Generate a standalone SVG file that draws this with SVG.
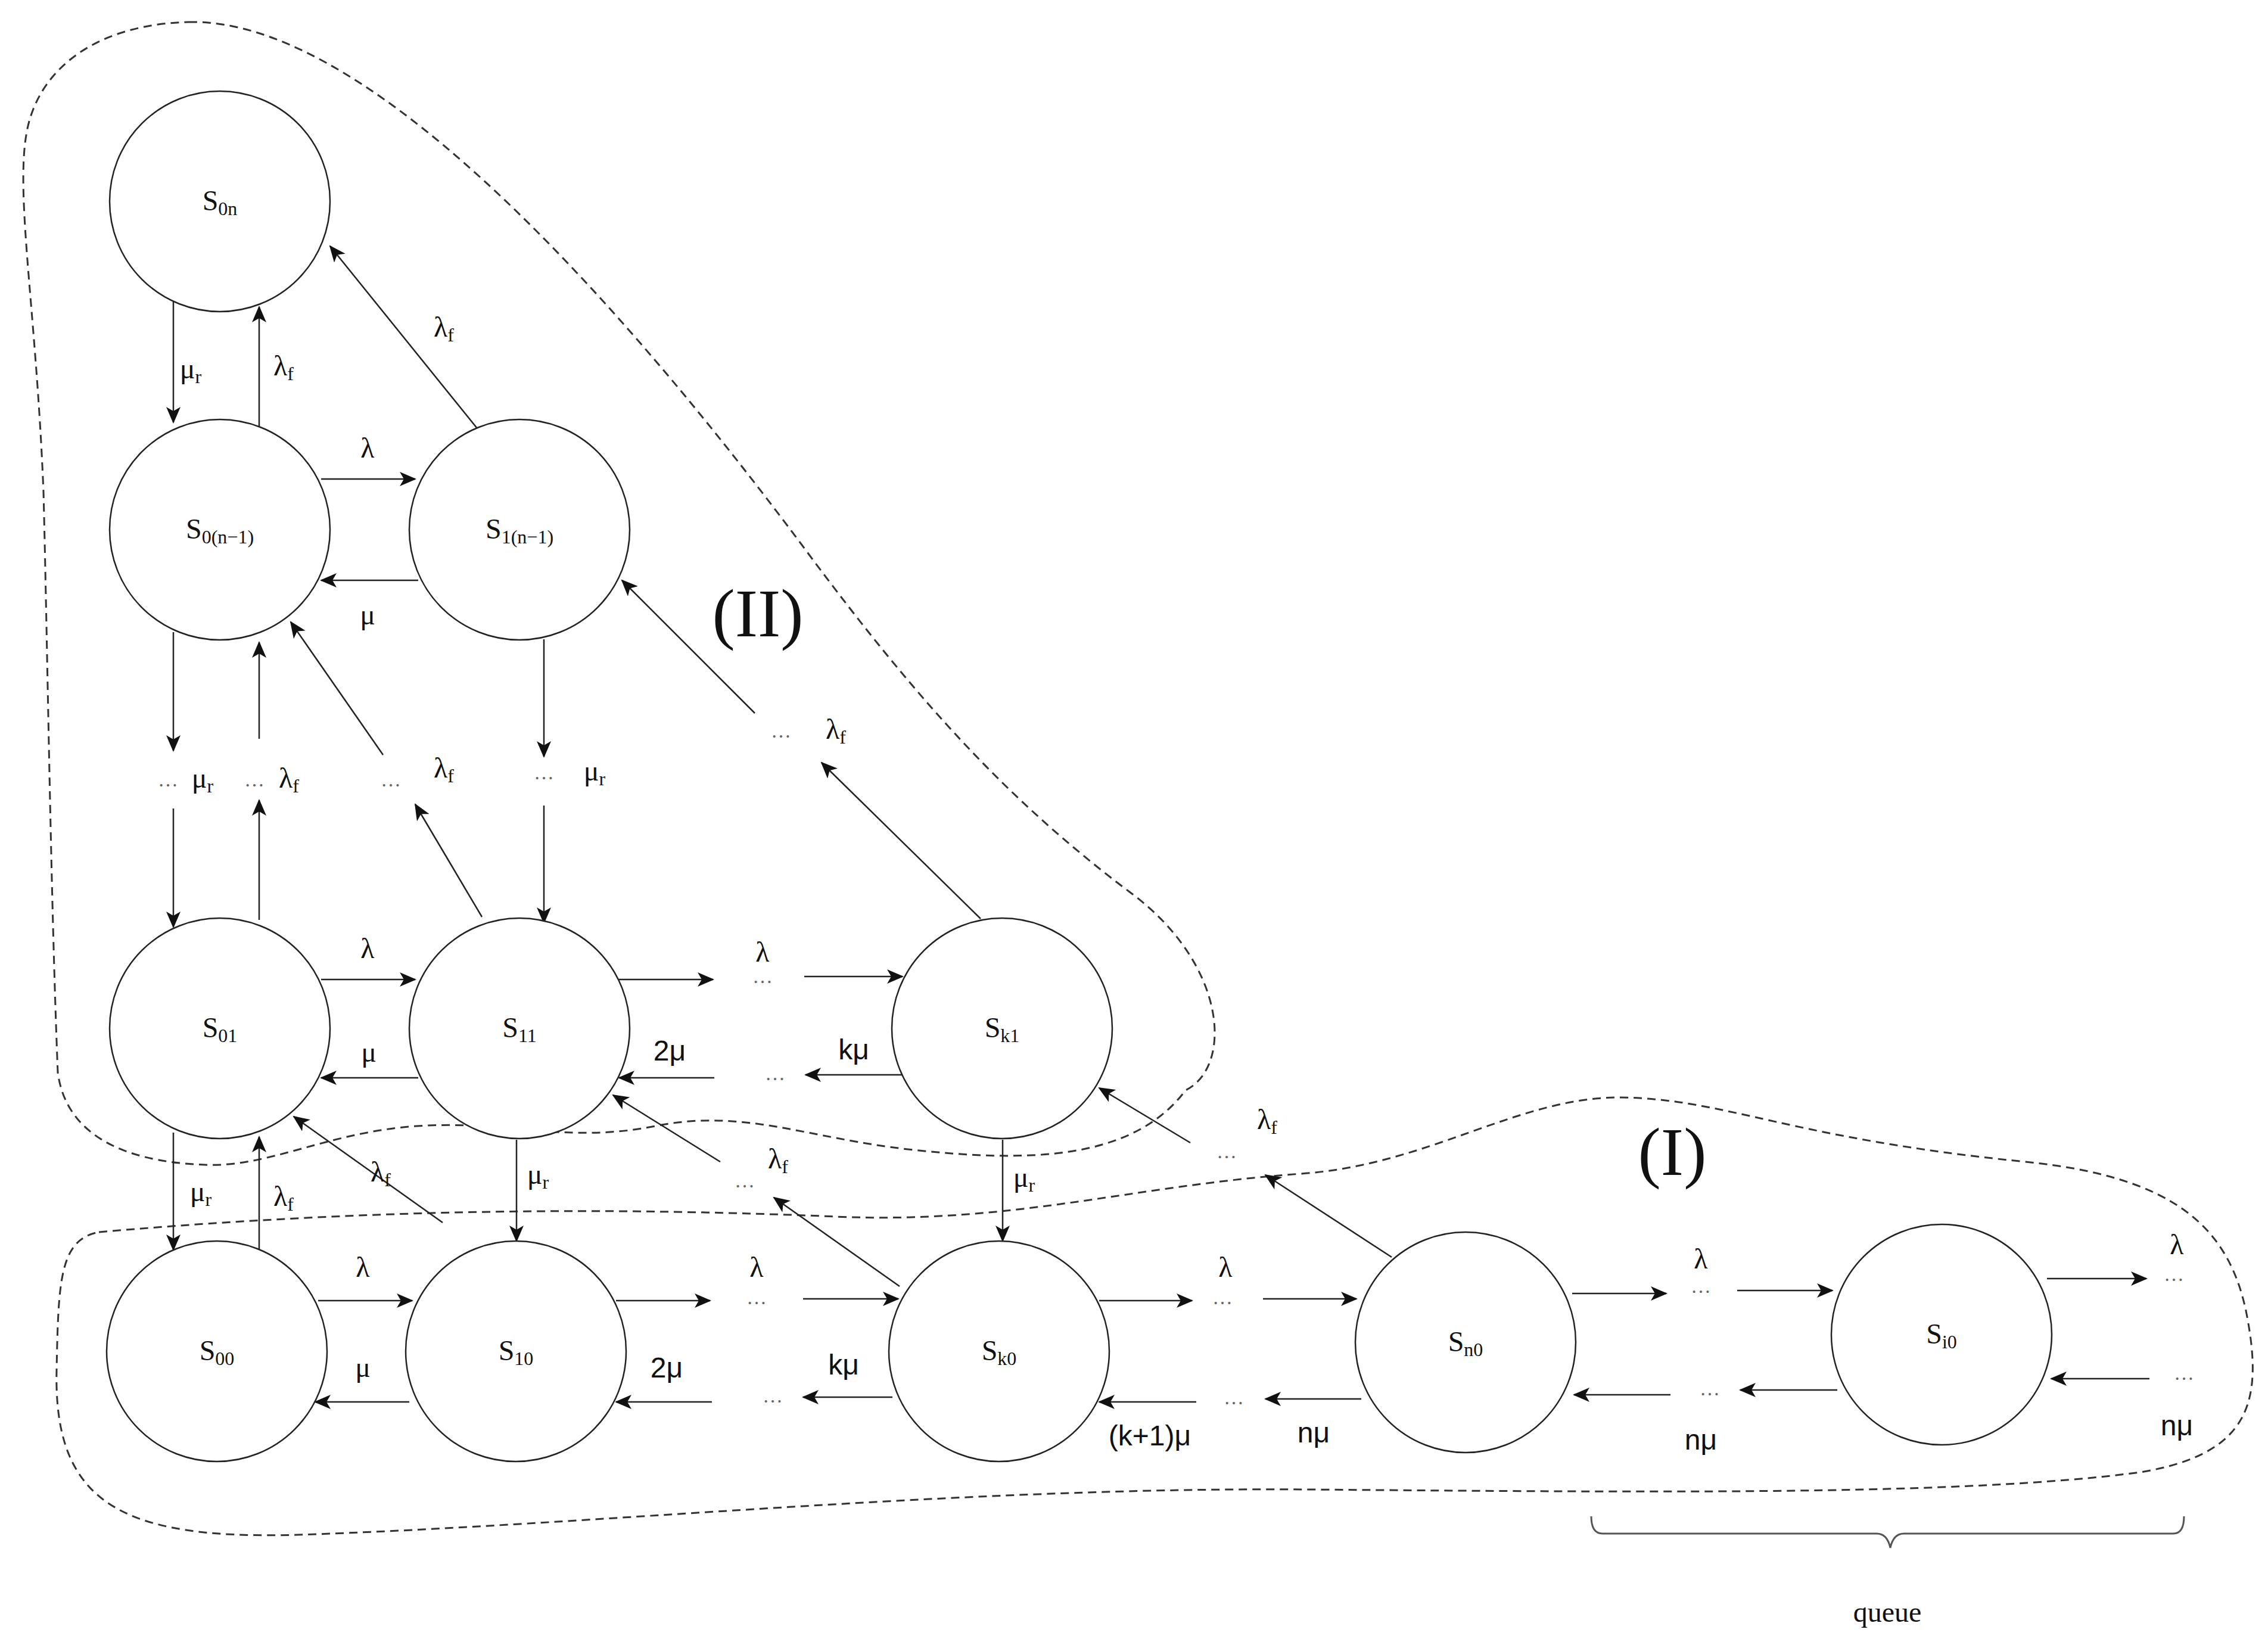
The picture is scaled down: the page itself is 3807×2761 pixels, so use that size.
<svg xmlns="http://www.w3.org/2000/svg" width="3807" height="2761" viewBox="0 0 3807 2761">
<style>
.n{fill:#fff;stroke:#222;stroke-width:2.5}
.t{font-family:"Liberation Serif",serif;font-size:48px;fill:#111;text-anchor:middle}
.s{font-family:"Liberation Sans",sans-serif;font-size:48px;fill:#111;text-anchor:middle}
.d{font-family:"Liberation Serif",serif;font-size:34px;fill:#666;text-anchor:middle}
.big{font-family:"Liberation Serif",serif;font-size:115px;fill:#111;text-anchor:middle}
.sub{font-size:32px}
.c line{stroke:#222;stroke-width:2.5;marker-end:url(#a)}
.c line.p{marker-end:none}
.r{fill:none;stroke:#333;stroke-width:3;stroke-dasharray:14 9}
</style>
<defs>
<marker id="a" markerUnits="userSpaceOnUse" markerWidth="30" markerHeight="24" refX="26" refY="12" orient="auto">
<path d="M0,0 L28,12 L0,24 L7,12 Z" fill="#111"/>
</marker>
</defs>
<rect width="3807" height="2761" fill="#fff"/>
<g id="regions">
<path class="r" d="M317,37 C600,30 1000,450 1350,920 C1550,1190 1700,1350 1900,1500 C2060,1620 2070,1790 1990,1830 C1900,1950 1720,1950 1533,1930 C1350,1910 1250,1860 1100,1890 C950,1920 850,1880 700,1890 C550,1900 450,1960 344,1955 C200,1950 110,1900 97,1800 C85,1500 80,1100 73,826 C60,500 20,300 50,200 C80,100 180,40 317,37 Z"/>
<path class="r" d="M166,2068 C600,2030 1000,2025 1403,2042 C1700,2055 1900,1990 2184,1970 C2400,1955 2550,1840 2722,1842 C2900,1845 3000,1910 3400,1950 C3650,1975 3740,2060 3770,2200 C3800,2350 3780,2440 3593,2471 C3300,2510 2800,2505 2200,2500 C1600,2495 1000,2560 500,2576 C200,2585 90,2520 95,2300 C98,2150 100,2080 166,2068 Z"/>
<text class="big" x="1272" y="1068">(II)</text>
<text class="big" x="2807" y="1972">(I)</text>
</g>
<g class="c" id="connectors">
<line x1="291" y1="505" x2="291" y2="709"/>
<line x1="435" y1="719" x2="435" y2="515"/>
<line x1="801" y1="719" x2="554" y2="413"/>
<line x1="539" y1="804" x2="697" y2="804"/>
<line x1="702" y1="974" x2="539" y2="974"/>
<line x1="291" y1="1061" x2="291" y2="1260"/>
<line x1="435" y1="1240" x2="435" y2="1078"/>
<line x1="435" y1="1544" x2="435" y2="1343"/>
<line x1="291" y1="1357" x2="291" y2="1556"/>
<line x1="809" y1="1539" x2="697" y2="1350"/>
<line x1="643" y1="1267" x2="488" y2="1044"/>
<line x1="913" y1="1073" x2="913" y2="1270"/>
<line x1="913" y1="1352" x2="913" y2="1549"/>
<line x1="1646" y1="1542" x2="1379" y2="1280"/>
<line x1="1267" y1="1197" x2="1044" y2="974"/>
<line x1="539" y1="1644" x2="697" y2="1644"/>
<line x1="702" y1="1809" x2="539" y2="1809"/>
<line x1="1039" y1="1644" x2="1197" y2="1644"/>
<line x1="1350" y1="1639" x2="1515" y2="1639"/>
<line x1="1199" y1="1809" x2="1039" y2="1809"/>
<line x1="1518" y1="1804" x2="1352" y2="1804"/>
<line x1="291" y1="1901" x2="291" y2="2098"/>
<line x1="435" y1="2098" x2="435" y2="1908"/>
<line x1="743" y1="2052" x2="493" y2="1874"/>
<line x1="867" y1="1913" x2="867" y2="2083"/>
<line x1="1209" y1="1950" x2="1029" y2="1838"/>
<line x1="1510" y1="2159" x2="1299" y2="2010"/>
<line x1="1683" y1="1913" x2="1683" y2="2083"/>
<line x1="2336" y1="2110" x2="2124" y2="1972"/>
<line x1="1998" y1="1918" x2="1845" y2="1826"/>
<line x1="534" y1="2183" x2="692" y2="2183"/>
<line x1="687" y1="2353" x2="529" y2="2353"/>
<line x1="1034" y1="2183" x2="1192" y2="2183"/>
<line x1="1348" y1="2180" x2="1508" y2="2180"/>
<line x1="1195" y1="2353" x2="1034" y2="2353"/>
<line x1="1498" y1="2345" x2="1348" y2="2345"/>
<line x1="1845" y1="2183" x2="2001" y2="2183"/>
<line x1="2120" y1="2180" x2="2277" y2="2180"/>
<line x1="2008" y1="2353" x2="1845" y2="2353"/>
<line x1="2285" y1="2348" x2="2124" y2="2348"/>
<line x1="2639" y1="2171" x2="2797" y2="2171"/>
<line x1="2916" y1="2166" x2="3076" y2="2166"/>
<line x1="2804" y1="2341" x2="2642" y2="2341"/>
<line x1="3084" y1="2333" x2="2921" y2="2333"/>
<line x1="3436" y1="2146" x2="3603" y2="2146"/>
<line x1="3608" y1="2314" x2="3443" y2="2314"/>
</g>
<g id="S0n"><circle class="n" cx="369" cy="338" r="185"/><text class="t" x="369" y="353">S<tspan class="sub" dy="8">0n</tspan></text></g>
<g id="S0n1"><circle class="n" cx="369" cy="889" r="185"/><text class="t" x="369" y="904">S<tspan class="sub" dy="8">0(n−1)</tspan></text></g>
<g id="S1n1"><circle class="n" cx="872" cy="889" r="185"/><text class="t" x="872" y="904">S<tspan class="sub" dy="8">1(n−1)</tspan></text></g>
<g id="S01"><circle class="n" cx="369" cy="1726" r="185"/><text class="t" x="369" y="1741">S<tspan class="sub" dy="8">01</tspan></text></g>
<g id="S11"><circle class="n" cx="872" cy="1726" r="185"/><text class="t" x="872" y="1741">S<tspan class="sub" dy="8">11</tspan></text></g>
<g id="Sk1"><circle class="n" cx="1682" cy="1726" r="185"/><text class="t" x="1682" y="1741">S<tspan class="sub" dy="8">k1</tspan></text></g>
<g id="S00"><circle class="n" cx="364" cy="2268" r="185"/><text class="t" x="364" y="2283">S<tspan class="sub" dy="8">00</tspan></text></g>
<g id="S10"><circle class="n" cx="866" cy="2268" r="185"/><text class="t" x="866" y="2283">S<tspan class="sub" dy="8">10</tspan></text></g>
<g id="Sk0"><circle class="n" cx="1677" cy="2268" r="185"/><text class="t" x="1677" y="2283">S<tspan class="sub" dy="8">k0</tspan></text></g>
<g id="Sn0"><circle class="n" cx="2460" cy="2253" r="185"/><text class="t" x="2460" y="2268">S<tspan class="sub" dy="8">n0</tspan></text></g>
<g id="Si0"><circle class="n" cx="3259" cy="2240" r="185"/><text class="t" x="3259" y="2255">S<tspan class="sub" dy="8">i0</tspan></text></g>
<g id="labels">
<text class="t" x="320" y="635">μ<tspan class="sub" dy="8">r</tspan></text>
<text class="t" x="476" y="630">λ<tspan class="sub" dy="8">f</tspan></text>
<text class="t" x="745" y="565">λ<tspan class="sub" dy="8">f</tspan></text>
<text class="t" x="617" y="768">λ</text>
<text class="t" x="617" y="1048">μ</text>
<text class="d" x="282" y="1320">…</text><text class="t" x="340" y="1322">μ<tspan class="sub" dy="8">r</tspan></text>
<text class="d" x="427" y="1320">…</text><text class="t" x="485" y="1322">λ<tspan class="sub" dy="8">f</tspan></text>
<text class="d" x="656" y="1320">…</text><text class="t" x="745" y="1305">λ<tspan class="sub" dy="8">f</tspan></text>
<text class="d" x="913" y="1308">…</text><text class="t" x="998" y="1310">μ<tspan class="sub" dy="8">r</tspan></text>
<text class="d" x="1311" y="1238">…</text><text class="t" x="1403" y="1240">λ<tspan class="sub" dy="8">f</tspan></text>
<text class="t" x="617" y="1608">λ</text>
<text class="t" x="619" y="1782">μ</text>
<text class="t" x="1280" y="1614">λ</text><text class="d" x="1280" y="1650">…</text>
<text class="s" x="1124" y="1780">2μ</text>
<text class="d" x="1301" y="1813">…</text>
<text class="s" x="1433" y="1778">kμ</text>
<text class="t" x="337" y="2016">μ<tspan class="sub" dy="8">r</tspan></text>
<text class="t" x="476" y="2024">λ<tspan class="sub" dy="8">f</tspan></text>
<text class="t" x="639" y="1983">λ<tspan class="sub" dy="8">f</tspan></text>
<text class="t" x="903" y="1987">μ<tspan class="sub" dy="8">r</tspan></text>
<text class="d" x="1250" y="1993">…</text><text class="t" x="1306" y="1961">λ<tspan class="sub" dy="8">f</tspan></text>
<text class="t" x="1719" y="1992">μ<tspan class="sub" dy="8">r</tspan></text>
<text class="d" x="2059" y="1944">…</text><text class="t" x="2127" y="1895">λ<tspan class="sub" dy="8">f</tspan></text>
<text class="t" x="609" y="2143">λ</text>
<text class="t" x="609" y="2311">μ</text>
<text class="t" x="1270" y="2143">λ</text><text class="d" x="1270" y="2189">…</text>
<text class="s" x="1119" y="2312">2μ</text>
<text class="d" x="1297" y="2354">…</text>
<text class="s" x="1416" y="2307">kμ</text>
<text class="t" x="2057" y="2143">λ</text><text class="d" x="2052" y="2189">…</text>
<text class="s" x="1930" y="2426">(k+1)μ</text>
<text class="d" x="2071" y="2357">…</text>
<text class="s" x="2205" y="2421">nμ</text>
<text class="t" x="2855" y="2129">λ</text><text class="d" x="2855" y="2170">…</text>
<text class="d" x="2870" y="2342">…</text>
<text class="s" x="2855" y="2433">nμ</text>
<text class="t" x="3654" y="2105">λ</text><text class="d" x="3649" y="2150">…</text>
<text class="d" x="3666" y="2316">…</text>
<text class="s" x="3654" y="2409">nμ</text>
</g>
<g id="brace">
<path d="M2671,2545 Q2671,2574 2690,2574 L3150,2574 Q3168,2574 3173,2598 Q3178,2574 3196,2574 L3648,2574 Q3666,2574 3666,2545" fill="none" stroke="#555" stroke-width="3"/>
<text class="t" x="3168" y="2722">queue</text>
</g>
</svg>
